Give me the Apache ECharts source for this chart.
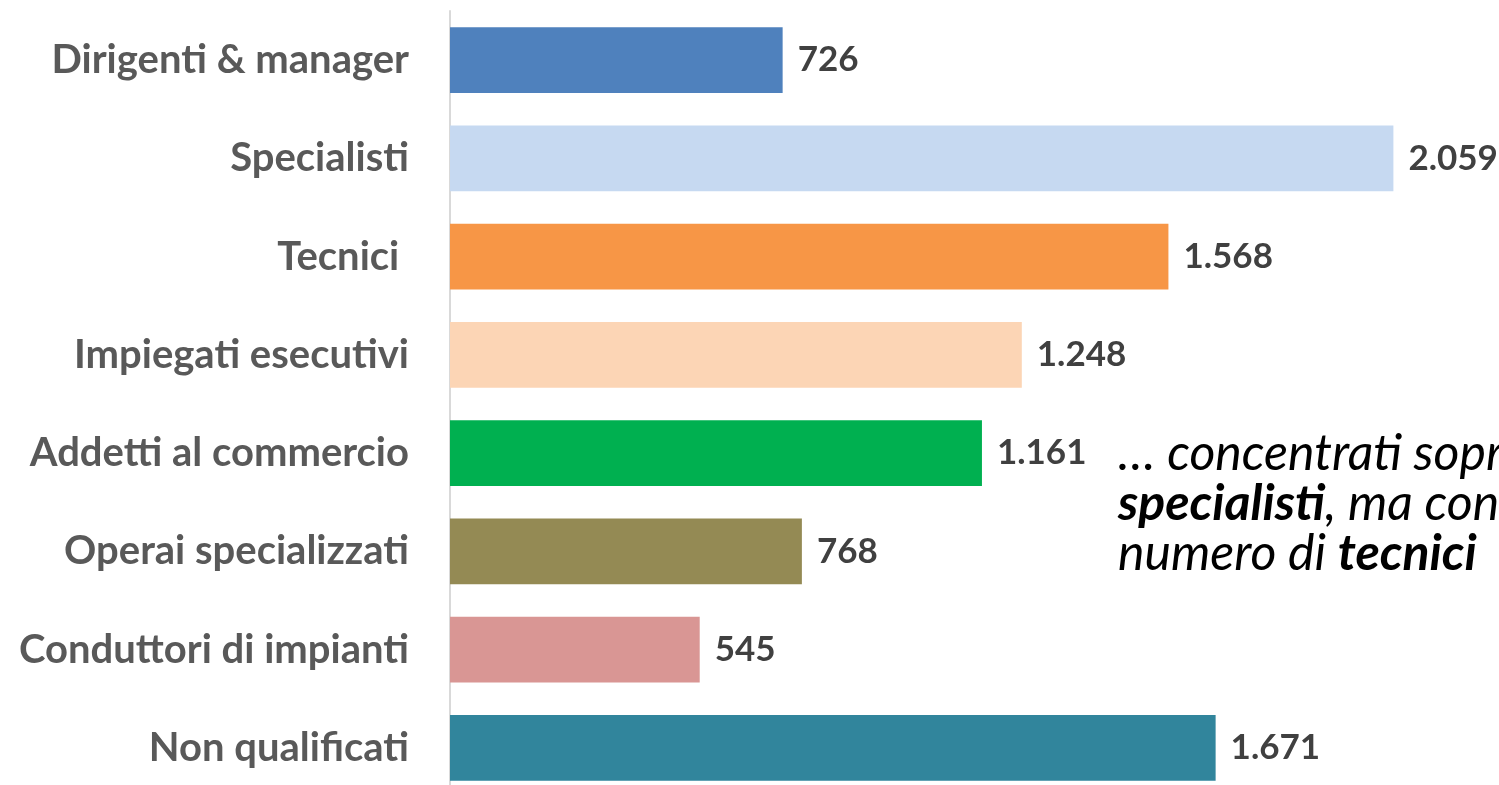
<!DOCTYPE html>
<html>
<head>
<meta charset="utf-8">
<script src="https://cdn.jsdelivr.net/npm/echarts@6/dist/echarts.min.js"></script>
<style>
html,body{margin:0;padding:0;background:#fff;overflow:hidden;}
#chart{width:1499px;height:800px;}
</style>
</head>
<body>
<div id="chart"></div>
<script>
const categories = ['Dirigenti & manager','Specialisti','Tecnici ','Impiegati esecutivi','Addetti al commercio','Operai specializzati','Conduttori di impianti','Non qualificati'];
const values = [726, 2059, 1568, 1248, 1161, 768, 545, 1671];
const barColors = ['#4F81BD','#C6D9F1','#F79646','#FCD5B5','#00B050','#948A54','#D99694','#31859C'];
const noteLines = ['… concentrati soprattutto tra gli', '{b|specialisti}, ma con un elevato', 'numero di {b|tecnici}'];

function fmt(v){ return String(v).replace(/\B(?=(\d{3})+(?!\d))/g, '.'); }

const chart = echarts.init(document.getElementById('chart'), null, {renderer:'canvas'});
chart.setOption({
  animation: false,
  backgroundColor: '#ffffff',
  grid: {left: 450, top: 11, width: 1008, height: 786, containLabel: false},
  xAxis: {
    type: 'value', min: 0, max: 2200,
    show: false
  },
  yAxis: {
    type: 'category', inverse: true, data: categories,
    axisLine: {show: true, lineStyle: {color: '#D9D9D9', width: 2}},
    axisTick: {show: false},
    axisLabel: {margin: 41, color: '#595959', fontFamily: 'Lato', fontWeight: 'bold', fontSize: 40}
  },
  series: [{
    type: 'bar',
    data: values.map((v, i) => ({value: v, itemStyle: {color: barColors[i]}})),
    barCategoryGap: '33%',
    label: {
      show: true, position: 'right', distance: 15,
      color: '#404040', fontFamily: 'Lato', fontWeight: 'bold', fontSize: 35,
      formatter: p => fmt(p.value)
    }
  }],
  graphic: [{
    type: 'text', left: 1118, top: 429, silent: true,
    style: {
      text: noteLines.join('\n'),
      fill: '#000', font: 'italic 50px Lato', lineHeight: 50,
      rich: {b: {fontWeight: 'bold', fontStyle: 'italic', fontFamily: 'Lato', fontSize: 50, fill: '#000', lineHeight: 50}}
    }
  }]
});
</script>
</body>
</html>
